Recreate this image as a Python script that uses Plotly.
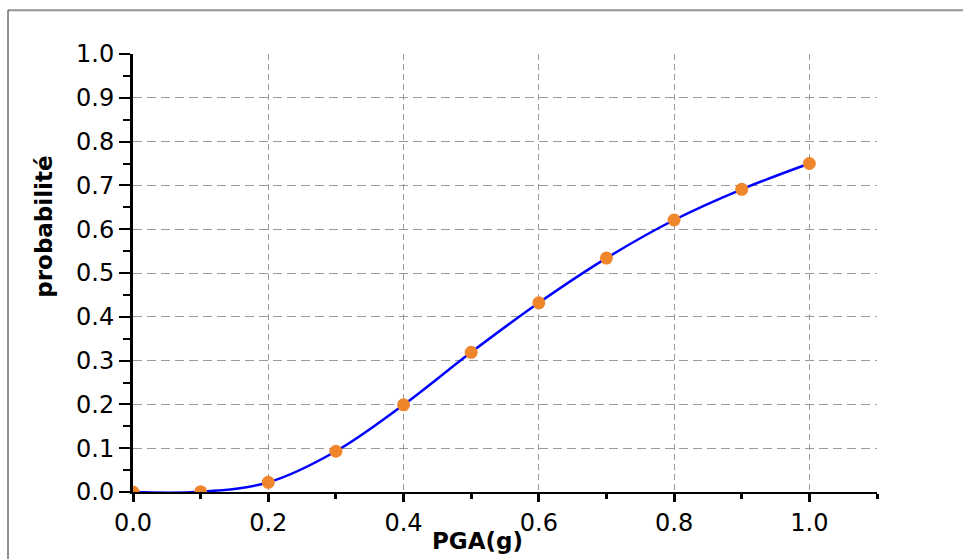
import plotly.graph_objects as go

# Fragility curve: probability of exceedance vs peak ground acceleration
pga = [0.0, 0.1, 0.2, 0.3, 0.4, 0.5, 0.6, 0.7, 0.8, 0.9, 1.0]
prob = [0.0, 0.0005, 0.022, 0.093, 0.199, 0.319, 0.432, 0.534, 0.621, 0.691, 0.750]

x_ticks = [0.0, 0.2, 0.4, 0.6, 0.8, 1.0]
x_labels = ["0.0", "0.2", "0.4", "0.6", "0.8", "1.0"]
y_ticks = [0.0, 0.1, 0.2, 0.3, 0.4, 0.5, 0.6, 0.7, 0.8, 0.9, 1.0]
y_labels = ["0.0", "0.1", "0.2", "0.3", "0.4", "0.5", "0.6", "0.7", "0.8", "0.9", "1.0"]
x_grid = [0.2, 0.4, 0.6, 0.8, 1.0]
y_grid = [0.1, 0.2, 0.3, 0.4, 0.5, 0.6, 0.7, 0.8, 0.9]

X_RANGE = [0, 1.1]
Y_RANGE = [0, 1.0]

TICK_FONT = dict(family="DejaVu Sans, Liberation Sans, Arial", size=24, color="black")
TITLE_FONT = dict(family="DejaVu Sans, Liberation Sans, Arial", size=23, color="black", weight="bold")

fig = go.Figure()

fig.add_trace(go.Scatter(
    x=pga, y=prob,
    mode="lines",
    line=dict(color="#0000FF", width=2.5, shape="spline", smoothing=1.0),
    hoverinfo="skip", showlegend=False,
))
fig.add_trace(go.Scatter(
    x=pga, y=prob,
    mode="markers",
    marker=dict(color="#F0862C", size=13, line=dict(width=0)),
    showlegend=False,
))
# empty trace so the tick/label axes are drawn
fig.add_trace(go.Scatter(x=[], y=[], xaxis="x2", yaxis="y2", showlegend=False, hoverinfo="skip"))

grid_common = dict(showgrid=True, gridcolor="#9a9a9a", gridwidth=1.3,
                   showline=False, zeroline=False, ticks="", showticklabels=False)

fig.update_layout(
    width=963, height=559,
    margin=dict(l=133, r=86, t=54, b=67),
    paper_bgcolor="white", plot_bgcolor="white",
    # grid-only axes
    xaxis=dict(range=X_RANGE, tickmode="array", tickvals=x_grid,
               griddash="6px,4px", **grid_common),
    yaxis=dict(range=Y_RANGE, tickmode="array", tickvals=y_grid,
               griddash="9px,5px", **grid_common),
    # axes carrying line, ticks and labels
    xaxis2=dict(range=X_RANGE, overlaying="x", anchor="y", side="bottom",
                showgrid=False, zeroline=False,
                showline=True, linecolor="black", linewidth=2,
                tickmode="array", tickvals=x_ticks, ticktext=x_labels,
                ticks="outside", ticklen=8, tickwidth=3, tickcolor="black",
                minor=dict(tickvals=[0.1, 0.3, 0.5, 0.7, 0.9, 1.1], ticks="outside",
                           ticklen=5, tickwidth=3, tickcolor="black", showgrid=False),
                tickfont=TICK_FONT),
    yaxis2=dict(range=Y_RANGE, overlaying="y", anchor="x", side="left",
                showgrid=False, zeroline=False,
                showline=True, linecolor="black", linewidth=3,
                tickmode="array", tickvals=y_ticks, ticktext=y_labels,
                ticks="outside", ticklen=11, tickwidth=2, tickcolor="black",
                minor=dict(dtick=0.05, tick0=0.05, ticks="outside",
                           ticklen=7, tickwidth=2, tickcolor="black", showgrid=False),
                tickfont=TICK_FONT),
    showlegend=False,
)

# axis titles
fig.add_annotation(text="PGA(g)", xref="paper", yref="paper", x=0.463, y=-0.112,
                   showarrow=False, font=TITLE_FONT, xanchor="center", yanchor="middle")
fig.add_annotation(text="probabilité", xref="paper", yref="paper", x=-0.12, y=0.605,
                   textangle=-90, showarrow=False, font=TITLE_FONT,
                   xanchor="center", yanchor="middle")

# outer frame: grey top edge and dark left edge
fig.add_shape(type="line", xref="paper", yref="paper", x0=-0.168, x1=1.2, y0=1.1, y1=1.1,
              line=dict(color="#959595", width=2))
fig.add_shape(type="line", xref="paper", yref="paper", x0=-0.168, x1=-0.168, y0=1.1, y1=-0.2,
              line=dict(color="#222222", width=1))

fig.write_html("out.html")
